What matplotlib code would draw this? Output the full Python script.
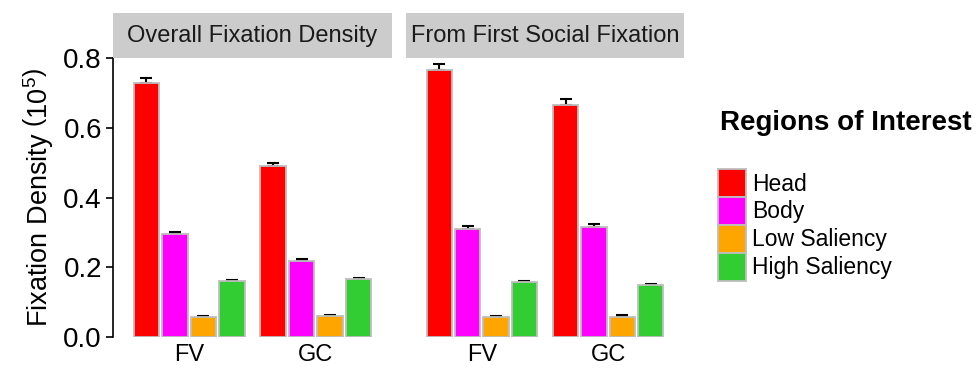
import matplotlib
matplotlib.use("Agg")
import matplotlib.pyplot as plt
from matplotlib.patches import Patch
import numpy as np

plt.rcParams['font.family'] = ['Liberation Sans', 'DejaVu Sans']
plt.rcParams['mathtext.fontset'] = 'custom'
plt.rcParams['mathtext.rm'] = 'Liberation Sans'
plt.rcParams['mathtext.it'] = 'Liberation Sans'

panels = ["Overall Fixation Density", "From First Social Fixation"]
groups = ["FV", "GC"]
regions = ["Head", "Body", "Low Saliency", "High Saliency"]
colors = ["#FF0000", "#FF00FF", "#FFA500", "#32CD32"]

# mean values [panel][group][region]
overall_means = [[0.728, 0.295, 0.057, 0.161],
                 [0.489, 0.218, 0.060, 0.166]]
overall_err = [[0.014, 0.005, 0.002, 0.003],
               [0.011, 0.005, 0.002, 0.003]]
social_means = [[0.766, 0.311, 0.057, 0.157],
                [0.666, 0.315, 0.058, 0.150]]
social_err = [[0.016, 0.007, 0.002, 0.003],
              [0.017, 0.009, 0.004, 0.003]]

means = [overall_means, social_means]
errs = [overall_err, social_err]

W, H = 977, 369
fig = plt.figure(figsize=(W / 100, H / 100), dpi=100)

panel_px = [(113, 392), (406, 684)]
top_px, bot_px = 58, 337
strip_top = 13

slot = 0.225
bar_w = 0.2
offsets = (np.arange(4) - 1.5) * slot

for p, (x0, x1) in enumerate(panel_px):
    ax = fig.add_axes([x0 / W, 1 - bot_px / H, (x1 - x0) / W, (bot_px - top_px) / H])
    for g in range(len(groups)):
        for r in range(len(regions)):
            xpos = g + 1 + offsets[r]
            m = means[p][g][r]
            e = errs[p][g][r]
            ax.errorbar(xpos, m, yerr=[[0], [e]], color="black", lw=1.5,
                        capsize=4.5, capthick=1.5, zorder=1)
            ax.bar(xpos, m, width=bar_w, color=colors[r], edgecolor="#BEBEBE",
                   linewidth=1.3, zorder=2)
    ax.set_xlim(0.4, 2.6)
    ax.set_ylim(0, 0.8)
    ax.set_xticks([1, 2])
    ax.set_xticklabels(groups, fontsize=17)
    ax.tick_params(axis="x", length=0, pad=5)
    for s in ["top", "right", "bottom"]:
        ax.spines[s].set_visible(False)
    if p == 0:
        ax.set_yticks([0, 0.2, 0.4, 0.6, 0.8])
        ax.set_yticklabels(["0.0", "0.2", "0.4", "0.6", "0.8"], fontsize=20)
        ax.tick_params(axis="y", length=5, width=1.2, pad=3)
        ax.spines["left"].set_linewidth(1.2)
        ax.set_ylabel(r"Fixation Density$\ \left(10^5\right)$", fontsize=19.5,
                      labelpad=6)
    else:
        ax.set_yticks([])
        ax.spines["left"].set_visible(False)
    ax.patch.set_alpha(0)

    # facet strip
    sax = fig.add_axes([x0 / W, 1 - top_px / H, (x1 - x0) / W, (top_px - strip_top) / H])
    sax.set_facecolor("#CCCCCC")
    sax.set_xticks([])
    sax.set_yticks([])
    for s in sax.spines.values():
        s.set_visible(False)
    sax.text(0.5, 0.48, panels[p], ha="center", va="center", fontsize=17,
             color="#1A1A1A", transform=sax.transAxes)

fig.text(720 / W, 1 - 123 / H, "Regions of Interest", fontsize=20,
         fontweight="bold", ha="left", va="center")

handles = [Patch(facecolor=c, edgecolor="#BEBEBE", linewidth=1.3) for c in colors]
leg = fig.legend(handles, regions, loc="upper left",
                 bbox_to_anchor=(718 / W, 1 - 169 / H), frameon=False,
                 fontsize=16.5, handlelength=1.2, handleheight=1.5,
                 labelspacing=0.0, handletextpad=0.3, borderaxespad=0,
                 borderpad=0)

fig.savefig("out.png", dpi=100)
